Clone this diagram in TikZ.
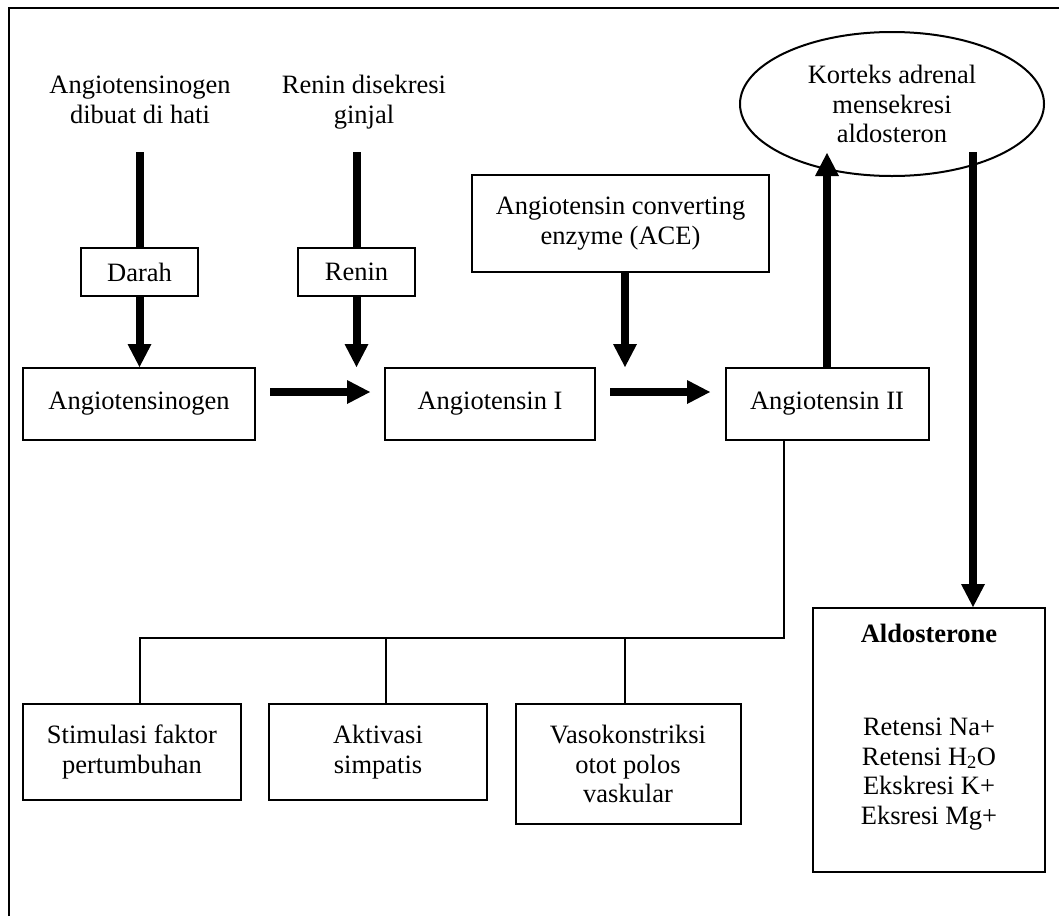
\documentclass[tikz,border=0pt]{standalone}
\usepackage{fontspec}
\setmainfont{Liberation Serif}
\usetikzlibrary{arrows.meta,shapes.geometric,calc}
\begin{document}
\begin{tikzpicture}[x=1pt,y=-1pt,
  txt/.style={align=center,font=\fontsize{26.5}{29.5}\selectfont,inner sep=0pt},
  box/.style={txt,draw,line width=2pt},
  shaft/.style={line width=8pt},
  fat/.style={line width=8pt,-{Triangle[width=24pt,length=23pt,line width=0pt]}},
  conn/.style={line width=2pt}]
\useasboundingbox (0,0) rectangle (1059,916);
\draw[line width=2pt] (9,916) -- (9,8) -- (1059,8);

\node[txt] (src1) at (140,100) {Angiotensinogen\\dibuat di hati};
\node[txt] (src2) at (364,102) {Renin disekresi\\ginjal};
\node[box,minimum width=117pt,minimum height=48pt] (darah) at (139.5,272) {Darah};
\node[box,minimum width=117pt,minimum height=48pt] (renin) at (356.5,272) {Renin};
\node[box,minimum width=232pt,minimum height=72pt] (agen) at (139,404) {Angiotensinogen};
\node[box,minimum width=210pt,minimum height=72pt] (ang1) at (490,404) {Angiotensin I};
\node[box,minimum width=203pt,minimum height=72pt] (ang2) at (827,404) {Angiotensin II};
\node[box,minimum width=297pt,minimum height=97pt] (ace) at (620.5,223.5) {Angiotensin converting\\enzyme (ACE)};
\node[txt,draw,ellipse,line width=2pt,minimum width=304pt,minimum height=144pt] (kort) at (892,104) {Korteks adrenal\\mensekresi\\aldosteron};
\node[box,minimum width=232pt,minimum height=264pt,text depth=32pt] (aldo) at (929,740) {\textbf{Aldosterone}\\[64pt]Retensi Na+\\Retensi H\textsubscript{2}O\\Ekskresi K+\\Eksresi Mg+};
\node[box,minimum width=218pt,minimum height=96pt] (stim) at (132,752) {Stimulasi faktor\\pertumbuhan};
\node[box,minimum width=218pt,minimum height=96pt] (akt) at (378,752) {Aktivasi\\simpatis};
\node[box,minimum width=225pt,minimum height=120pt] (vaso) at (628,764) {Vasokonstriksi\\otot polos\\vaskular};

% input arrows
\coordinate (a1) at (darah.north |- 0,152);
\draw[shaft] (a1) -- (darah.north);
\draw[fat] (darah.south) -- (darah.south |- agen.north);
\coordinate (a2) at (renin.north |- 0,152);
\draw[shaft] (a2) -- (renin.north);
\draw[fat] (renin.south) -- (renin.south |- agen.north);

% horizontal arrows
\coordinate (h1s) at (270,392);
\coordinate (h1e) at (370,392);
\draw[fat] (h1s) -- (h1e);
\coordinate (h2s) at (610,392);
\coordinate (h2e) at (710,392);
\draw[fat] (h2s) -- (h2e);

% ACE arrow
\coordinate (ac) at ($(ace.south)+(4.5,0)$);
\draw[fat] (ac) -- (ac |- agen.north);

% to and from adrenal cortex
\coordinate (up) at (ang2.north |- 0,153);
\draw[fat] (ang2.north) -- (up);
\coordinate (dn) at (973,152);
\draw[fat] (dn) -- (dn |- aldo.north);

% tree
\coordinate (t0) at ($(ang2.south)+(-43,0)$);
\coordinate (tj) at (t0 |- 0,638);
\coordinate (tL) at (139.5,638);
\coordinate (tM) at (385.7,638);
\coordinate (tR) at (625,638);
\draw[conn] (t0) -- (tj) -- (tL) -- (tL |- stim.north);
\draw[conn] (tM) -- (tM |- akt.north);
\draw[conn] (tR) -- (tR |- vaso.north);
\end{tikzpicture}
\end{document}
